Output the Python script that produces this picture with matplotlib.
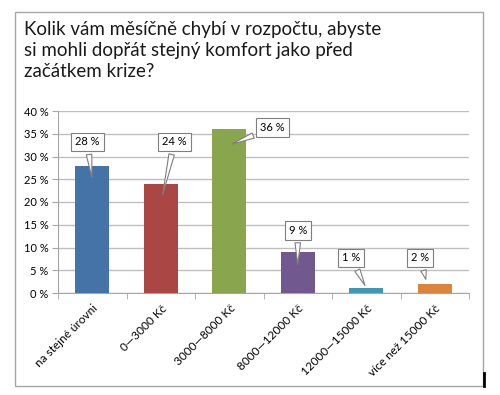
import numpy as np
import matplotlib.pyplot as plt
from matplotlib.patches import Rectangle
from matplotlib.lines import Line2D

plt.rcParams['font.family'] = ['Lato', 'DejaVu Sans']

kategorie = ['na stejné úrovni', '0—3000 Kč', '3000—8000 Kč',
             '8000—12000 Kč', '12000—15000 Kč', 'více než 15000 Kč']
podily = [28, 24, 36, 9, 1, 2]
popisky = ['28 %', '24 %', '36 %', '9 %', '1 %', '2 %']
barvy = ['#4572A7', '#AA4643', '#89A54E', '#71588F', '#4198AF', '#DB843D']

# umisteni bublin s popisky (x, y) a kam ukazuji
bubliny = [(-0.07, 33.2), (1.2, 33.2), (2.63, 36.3), (3.0, 13.8), (3.78, 7.7), (4.79, 7.7)]
spicky = [(0.0, 24.8), (1.02, 21.1), (2.0, 32.5), (3.0, 5.7), (4.0, 1.1), (4.88, 2.4)]

W, H = 500, 395
fig = plt.figure(figsize=(W / 100, H / 100), dpi=100)

# ramecek grafu
fig.patches.append(Rectangle((15 / W, 1 - 386 / H), 468 / W, 374 / H,
                             transform=fig.transFigure, fill=False,
                             ec='#a6a6a6', lw=1))
fig.lines.append(Line2D([484 / W, 484 / W], [1 - 386 / H, 1 - 373 / H],
                        transform=fig.transFigure, color='black', lw=2))

fig.text(24 / W, 1 - 21 / H,
         'Kolik vám měsíčně chybí v rozpočtu, abyste\n'
         'si mohli dopřát stejný komfort jako před\n'
         'začátkem krize?',
         ha='left', va='top', fontsize=13.5, linespacing=1.3, color='#1a1a1a')

ax = fig.add_axes([58 / W, 1 - 293 / H, 411 / W, 182 / H])
x = np.arange(len(kategorie))
ax.bar(x, podily, width=0.5, color=barvy, zorder=3)

ax.set_xlim(-0.5, len(kategorie) - 0.5)
ax.set_ylim(0, 40)
ax.set_yticks(range(0, 41, 5))
ax.set_yticklabels([f'{v} %' for v in range(0, 41, 5)], fontsize=8)
ax.yaxis.grid(True, color='#bfbfbf', lw=1, zorder=0)

ax.set_xticks(x)
ax.set_xticklabels(kategorie, rotation=45, ha='right', rotation_mode='anchor',
                   fontsize=8.5)
ax.tick_params(axis='x', length=0, pad=7)
ax.set_xticks(np.arange(-0.5, len(kategorie)), minor=True)
ax.tick_params(axis='x', which='minor', length=4, color='#a6a6a6')
ax.tick_params(axis='y', length=4, color='#a6a6a6', pad=3)

for s in ['top', 'right']:
    ax.spines[s].set_visible(False)
for s in ['left', 'bottom']:
    ax.spines[s].set_color('#a6a6a6')

for txt, (bx, by), (sx, sy) in zip(popisky, bubliny, spicky):
    ax.annotate(txt, xy=(sx, sy), xytext=(bx, by), ha='center', va='center',
                fontsize=8, zorder=5,
                bbox=dict(boxstyle='square,pad=0.35', fc='white', ec='#7f7f7f', lw=0.8),
                arrowprops=dict(arrowstyle='wedge,tail_width=0.5,shrink_factor=0.5',
                                fc='white', ec='#7f7f7f', lw=0.8))

fig.savefig('out.png', dpi=100)
